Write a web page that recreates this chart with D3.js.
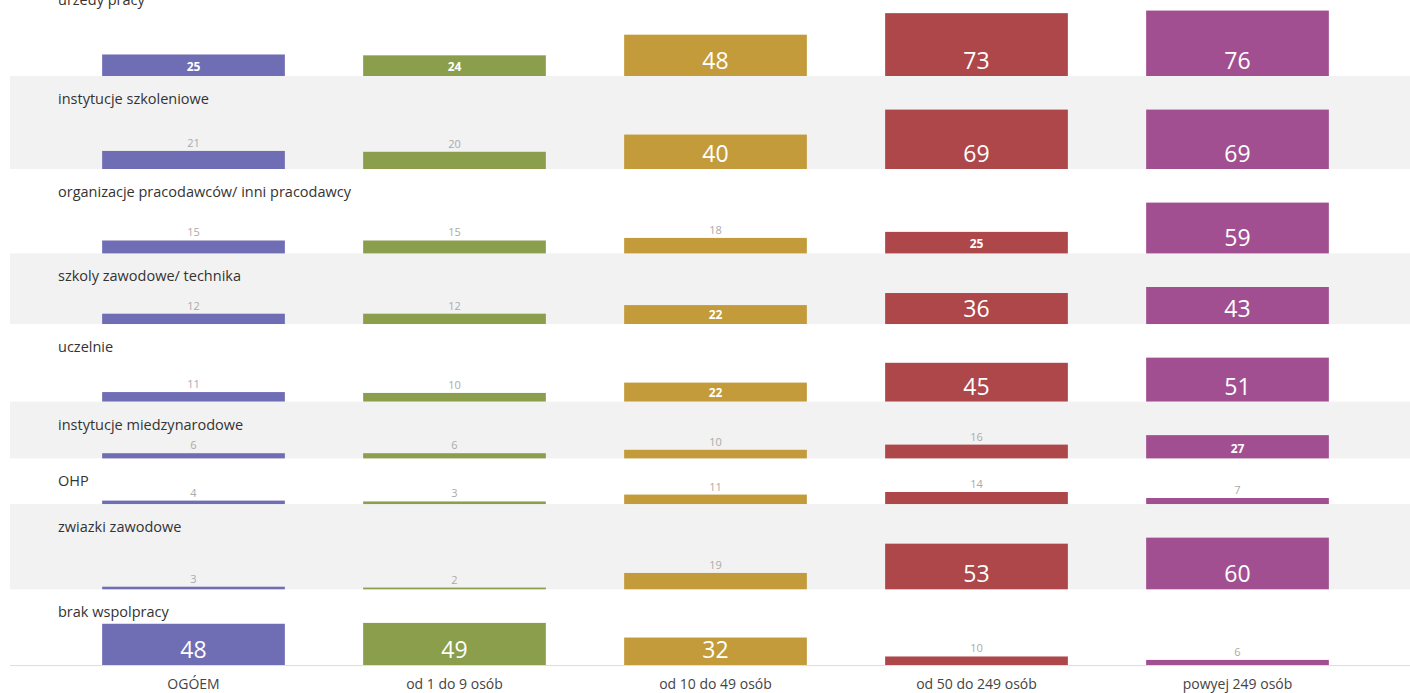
<!DOCTYPE html>
<html>
<head>
<meta charset="utf-8">
<script src="https://cdn.jsdelivr.net/npm/d3@7"></script>
<style>
  html, body { margin: 0; padding: 0; background: #fff; overflow: hidden; }
  svg { display: block; }
</style>
</head>
<body>
<script>
// Partners of cooperation by company size (% of firms)
const rowLabels = [
  "urzedy pracy",
  "instytucje szkoleniowe",
  "organizacje pracodawców/ inni pracodawcy",
  "szkoly zawodowe/ technika",
  "uczelnie",
  "instytucje miedzynarodowe",
  "OHP",
  "zwiazki zawodowe",
  "brak wspolpracy"
];
const groups = ["OGÓEM", "od 1 do 9 osób", "od 10 do 49 osób", "od 50 do 249 osób", "powyej 249 osób"];
const ogolem   = [25, 21, 15, 12, 11, 6, 4, 3, 48];
const od1do9   = [24, 20, 15, 12, 10, 6, 3, 2, 49];
const od10do49 = [48, 40, 18, 22, 22, 10, 11, 19, 32];
const od50do249 = [73, 69, 25, 36, 45, 16, 14, 53, 10];
const powyzej249 = [76, 69, 59, 43, 51, 27, 7, 60, 6];
const seriesValues = [ogolem, od1do9, od10do49, od50do249, powyzej249];
const colors = ["#6f6db3", "#8a9e4b", "#c39b3b", "#ad4749", "#a24f91"];

const W = 1410, H = 693;
const svg = d3.select("body").append("svg").attr("width", W).attr("height", H);

const x = d3.scaleBand().domain(groups).range([63, 1368]).paddingInner(0.3).paddingOuter(0.15);
const h = d3.scaleLinear().domain([0, 100]).range([0, 86.1]);
const rowPad = 33.6;

// stack rows: each row is tall enough for its largest bar plus the label
const rows = rowLabels.map((label, i) => {
  const vals = seriesValues.map(s => s[i]);
  return { label, vals, height: rowPad + h(d3.max(vals)) };
});
let rowTop = 76 - rows[0].height;
rows.forEach(r => { r.top = rowTop; r.base = rowTop + r.height; rowTop = r.base; });

const font = "'Open Sans', 'Noto Sans', sans-serif";

// alternating background bands
svg.append("g").selectAll("rect")
  .data(rows.filter((r, i) => i % 2 === 1))
  .join("rect")
  .attr("x", 10).attr("width", W - 10)
  .attr("y", r => r.top).attr("height", r => r.height)
  .attr("fill", "#f2f2f2");

const rowG = svg.append("g").selectAll("g").data(rows).join("g");

rowG.append("text")
  .attr("x", 58).attr("y", r => r.top + 28)
  .attr("font-family", font).attr("font-size", 14.5).attr("fill", "#333")
  .text(r => r.label);

rowG.each(function(r) {
  const g = d3.select(this);
  const data = r.vals.map((v, j) => ({ v, j, g: groups[j] }));
  g.selectAll("rect.bar").data(data).join("rect")
    .attr("class", "bar")
    .attr("x", d => x(d.g)).attr("width", x.bandwidth())
    .attr("y", d => r.base - h(d.v)).attr("height", d => h(d.v))
    .attr("fill", d => colors[d.j]);

  g.selectAll("text.val").data(data).join("text")
    .attr("class", "val")
    .attr("x", d => x(d.g) + x.bandwidth() / 2)
    .attr("y", d => d.v >= 30 ? r.base - 7 : d.v >= 22 ? r.base - 5 : r.base - h(d.v) - 4)
    .attr("text-anchor", "middle")
    .attr("font-family", font)
    .attr("font-size", d => d.v >= 30 ? 23 : d.v >= 22 ? 12 : 11)
    .attr("font-weight", d => d.v >= 22 && d.v < 30 ? "bold" : "normal")
    .attr("fill", d => d.v >= 22 ? "#fff" : "#aaa")
    .text(d => d.v);
});

// bottom axis with group names
const last = rows[rows.length - 1];
const axis = svg.append("g").attr("transform", `translate(0,${last.base})`)
  .call(d3.axisBottom(x).tickSize(0).tickPadding(14));
axis.select(".domain").attr("stroke", "#ddd").attr("d", `M10,0.5H${W}`);
axis.selectAll("text").attr("font-family", font).attr("font-size", 14).attr("fill", "#444");
</script>
</body>
</html>
